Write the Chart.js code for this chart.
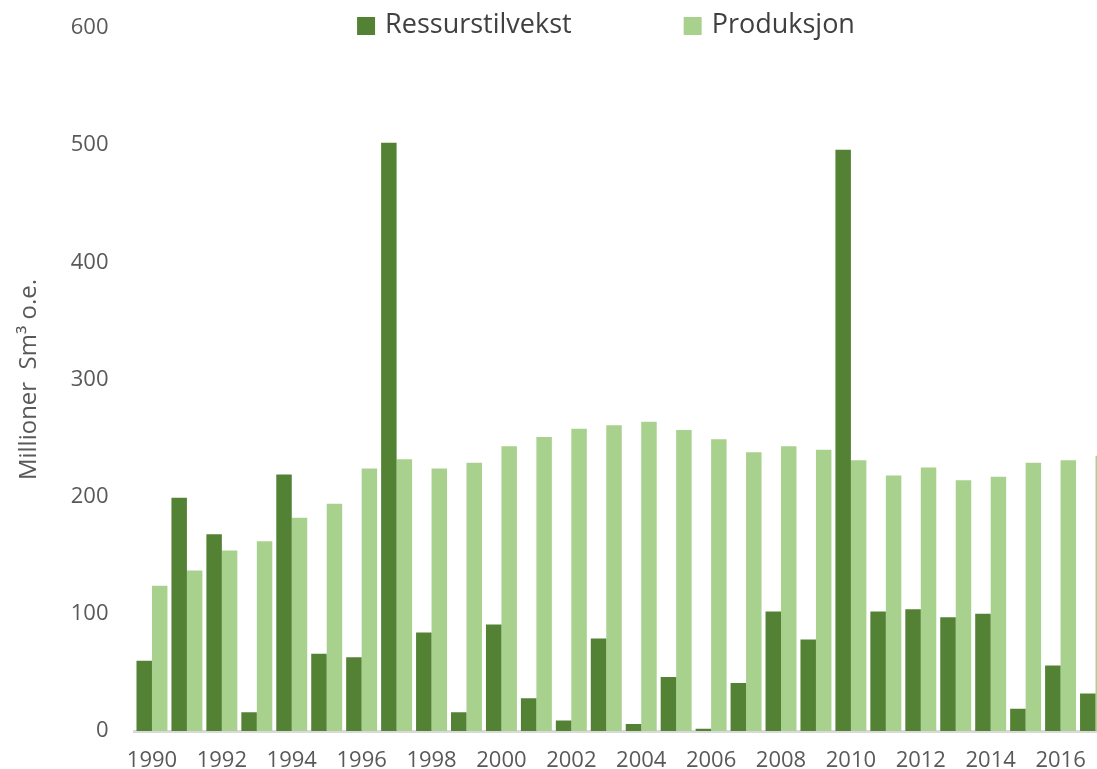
<!DOCTYPE html>
<html>
<head>
<meta charset="utf-8">
<script src="https://cdn.jsdelivr.net/npm/chart.js@4"></script>
<style>
  html, body { margin: 0; padding: 0; background: #fff; overflow: hidden; }
  #wrap { width: 1097px; height: 769px; overflow: hidden; }
</style>
</head>
<body>
<div id="wrap"><canvas id="myBarChart" width="1120" height="769"></canvas></div>
<script>
var years = ['1990', '1991', '1992', '1993', '1994', '1995', '1996', '1997', '1998', '1999',
             '2000', '2001', '2002', '2003', '2004', '2005', '2006', '2007', '2008', '2009',
             '2010', '2011', '2012', '2013', '2014', '2015', '2016', '2017'];
var ressurstilvekst = [60, 199, 168, 16, 219, 66, 63, 502, 84, 16,
                       91, 28, 9, 79, 6, 46, 2, 41, 102, 78,
                       496, 102, 104, 97, 100, 19, 56, 32];
var produksjon = [124, 137, 154, 162, 182, 194, 224, 232, 224, 229,
                  243, 251, 258, 261, 264, 257, 249, 238, 243, 240,
                  231, 218, 225, 214, 217, 229, 231, 235];
var yTicks = [0, 100, 200, 300, 400, 500, 600];

var fontName = '"Open Sans", sans-serif';

// legend drawn by hand, it sits level with the top of the plot
var topLegend = {
    id: 'topLegend',
    afterDraw: function(chart) {
        var c = chart.ctx;
        var box = 18, gapText = 10, gapItem = 112;
        c.save();
        c.font = '27px ' + fontName;
        c.textBaseline = 'middle';
        var items = chart.data.datasets.map(function(ds) {
            return { text: ds.label, color: ds.backgroundColor, w: c.measureText(ds.label).width };
        });
        var total = 0;
        items.forEach(function(it, i) {
            total += box + gapText + it.w + (i > 0 ? gapItem : 0);
        });
        var x = 606 - total / 2;
        items.forEach(function(it) {
            c.fillStyle = it.color;
            c.fillRect(x, 17, box, box);
            c.fillStyle = '#404040';
            c.fillText(it.text, x + box + gapText, 25);
            x += box + gapText + it.w + gapItem;
        });
        c.restore();
    }
};

var ctx = document.getElementById('myBarChart').getContext('2d');

var myBarChart = new Chart(ctx, {
    type: 'bar',
    data: {
        labels: years,
        datasets: [{
            label: 'Ressurstilvekst',
            data: ressurstilvekst,
            backgroundColor: '#548235',
            categoryPercentage: 0.886,
            barPercentage: 1
        }, {
            label: 'Produksjon',
            data: produksjon,
            backgroundColor: '#a9d18e',
            categoryPercentage: 0.886,
            barPercentage: 1
        }]
    },
    options: {
        responsive: false,
        animation: false,
        layout: {
            padding: { top: 28, right: 7, left: 0, bottom: 0 }
        },
        plugins: {
            legend: { display: false },
            tooltip: { enabled: false }
        },
        scales: {
            x: {
                grid: { display: false, drawTicks: false },
                border: { display: true, color: '#d9d9d9', width: 3 },
                ticks: {
                    color: '#595959',
                    font: { family: fontName, size: 22 },
                    padding: 17,
                    maxRotation: 0,
                    autoSkip: false,
                    callback: function(val, i) {
                        return i % 2 === 0 ? this.getLabelForValue(val) : '';
                    }
                },
                afterFit: function(scale) {
                    scale.height = 38;
                    scale.paddingLeft = 0;
                    scale.paddingRight = 0;
                }
            },
            y: {
                min: 0,
                max: 600,
                grid: { display: false, drawTicks: false },
                border: { display: false },
                afterBuildTicks: function(scale) {
                    scale.ticks = yTicks.map(function(v) { return { value: v }; });
                },
                ticks: {
                    color: '#595959',
                    font: { family: fontName, size: 22 },
                    padding: 26
                },
                title: {
                    display: true,
                    text: 'Millioner  Sm³ o.e.',
                    color: '#595959',
                    font: { family: fontName, size: 24 },
                    padding: { top: 15, bottom: 0 }
                },
                afterFit: function(scale) {
                    scale.width = 134.5;
                    scale.paddingTop = 0;
                    scale.paddingBottom = 0;
                }
            }
        }
    },
    plugins: [topLegend]
});
</script>
</body>
</html>
